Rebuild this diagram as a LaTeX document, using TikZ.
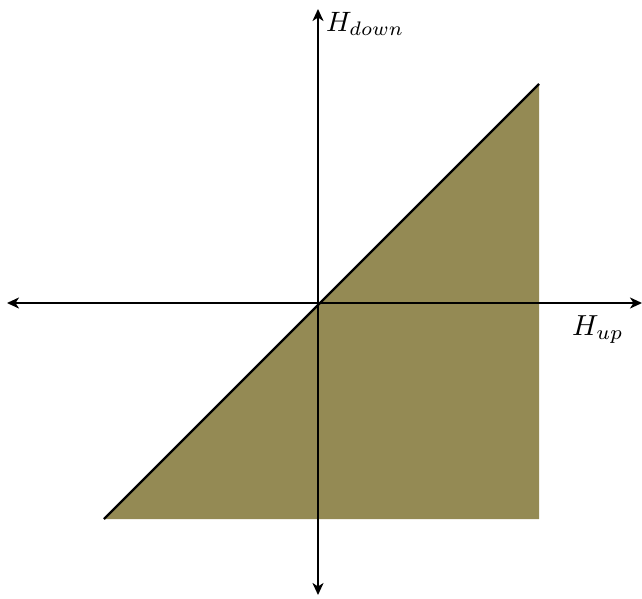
\documentclass[tikz,border=0pt]{standalone}
\usetikzlibrary{arrows.meta}
\definecolor{olivefill}{HTML}{948A54}
\tikzset{
  axis/.style={line width=2pt, -{Stealth[length=12pt,width=11pt,inset=3.5pt]}},
  diag/.style={line width=2.4pt, black},
  axlabel/.style={inner sep=0pt}
}
\begin{document}
\begin{tikzpicture}[x=1pt,y=-1pt]
\useasboundingbox (0,0) rectangle (642,598);
\coordinate (o) at (318,303);
\coordinate (left) at (7,303);
\coordinate (right) at (642,303);
\coordinate (top) at (318,9);
\coordinate (bottom) at (318,595);
\coordinate (a) at (104,519);
\coordinate (b) at (539,84);
\coordinate (c) at (539,519);
\fill[olivefill] (a) -- (b) -- (c) -- cycle;
\draw[axis] (o) -- (right);
\draw[axis] (o) -- (left);
\draw[axis] (o) -- (top);
\draw[axis] (o) -- (bottom);
\draw[diag] (a) -- (b);
\node[axlabel, anchor=base west] (hd) at (326,31) {\scalebox{2.8}{$H_{down}$}};
\node[axlabel, anchor=base west] (hu) at (572,335) {\scalebox{2.9}{$H_{up}$}};
\end{tikzpicture}
\end{document}
